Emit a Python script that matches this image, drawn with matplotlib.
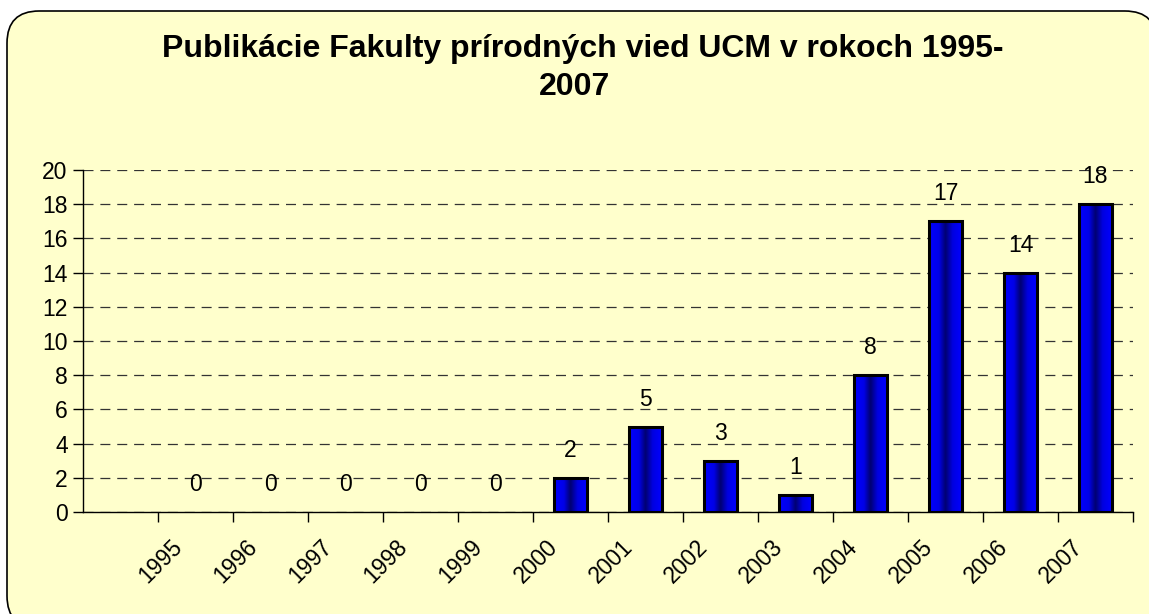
import numpy as np
import matplotlib.pyplot as plt
from matplotlib.colors import LinearSegmentedColormap
from matplotlib.patches import FancyBboxPatch, Rectangle
from matplotlib.transforms import offset_copy

# --- Datos ---
roky = ['1995', '1996', '1997', '1998', '1999', '2000', '2001',
        '2002', '2003', '2004', '2005', '2006', '2007']
publikacie = [0, 0, 0, 0, 0, 2, 5, 3, 1, 8, 17, 14, 18]
y_ticks = [0, 2, 4, 6, 8, 10, 12, 14, 16, 18, 20]

plt.rcParams['font.family'] = ['Liberation Sans', 'DejaVu Sans']

W, H = 1149, 614
fig = plt.figure(figsize=(W / 100, H / 100), dpi=100)
fig.patch.set_facecolor('white')

# rámik s tieňom
shadow = FancyBboxPatch((13 / W, -20 / H), 1155 / W, 620 / H,
                        boxstyle="round,pad=0,rounding_size=0.045",
                        transform=fig.transFigure, facecolor='black',
                        edgecolor='none', zorder=0, mutation_aspect=W / H)
frame = FancyBboxPatch((7 / W, -14 / H), 1150 / W, 617 / H,
                       boxstyle="round,pad=0,rounding_size=0.028",
                       transform=fig.transFigure, facecolor='#FFFFCC',
                       edgecolor='black', linewidth=1.2, zorder=1,
                       mutation_aspect=W / H)
fig.patches.extend([shadow, frame])

ax = fig.add_axes([83 / W, 1 - 512 / H, (1133 - 83) / W, (512 - 170) / H])
ax.set_facecolor('none')
ax.set_zorder(2)

x = np.arange(1, len(roky) + 1)
sirka = 0.43
cmap = LinearSegmentedColormap.from_list(
    'modra', [(0, '#0000FF'), (0.3, '#0000E8'), (0.5, '#000070'),
              (0.72, '#0000E0'), (1, '#0000FF')])
grad = np.linspace(0, 1, 64).reshape(1, -1)

for xi, v in zip(x, publikacie):
    if v > 0:
        ax.imshow(grad, extent=[xi - sirka / 2, xi + sirka / 2, 0, v],
                  aspect='auto', cmap=cmap, zorder=3, interpolation='bilinear')
        ax.add_patch(Rectangle((xi - sirka / 2, 0), sirka, v, fill=False,
                               edgecolor='black', linewidth=2.2, zorder=4))
    ax.annotate(str(v), (xi, v), xytext=(0, 11.5), textcoords='offset points',
                ha='center', va='bottom', fontsize=16.5, zorder=5)

ax.set_xlim(-0.5, 13.5)
ax.set_ylim(0, 20)
ax.set_yticks(y_ticks)
ax.tick_params(axis='y', labelsize=16.5, length=7, width=1, pad=4)
ax.set_xticks(np.arange(0.5, 14, 1))
ax.set_xticklabels([])
ax.tick_params(axis='x', length=7, width=1)
ax.grid(axis='y', color='#333333', linestyle=(0, (8, 5.5)), linewidth=0.9)
ax.set_axisbelow(True)
for s in ['top', 'right']:
    ax.spines[s].set_visible(False)
ax.spines['left'].set_linewidth(1)
ax.spines['bottom'].set_linewidth(1)

trans = offset_copy(ax.get_xaxis_transform(), fig=fig, x=-6, y=-17, units='points')
for xi, r in zip(x, roky):
    ax.text(xi, 0, r, transform=trans, rotation=45, ha='right', va='top',
            fontsize=16.5)

fig.text(583 / W, 1 - 49 / H, 'Publikácie Fakulty prírodných vied UCM v rokoch 1995-',
         ha='center', va='center', fontsize=23, fontweight='bold')
fig.text(575 / W, 1 - 87 / H, '2007', ha='center', va='center',
         fontsize=23, fontweight='bold')

fig.savefig('out.png', dpi=100, facecolor=fig.get_facecolor())
